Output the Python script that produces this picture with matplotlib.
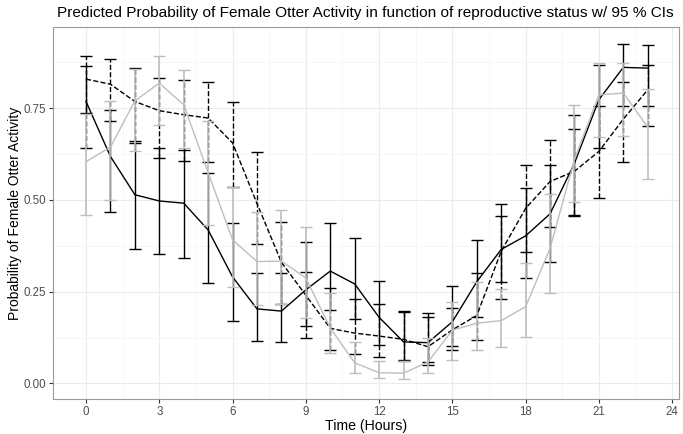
import numpy as np
import matplotlib
matplotlib.use("Agg")
from matplotlib import pyplot as plt

plt.rcParams['font.family'] = ['Liberation Sans', 'DejaVu Sans']

# hours of the day
hours = list(range(24))

# black solid series
solid_fit = [0.768, 0.618, 0.514, 0.497, 0.491, 0.418, 0.290, 0.203, 0.197, 0.255, 0.306, 0.271,
             0.180, 0.113, 0.111, 0.168, 0.277, 0.365, 0.402, 0.462, 0.600, 0.773, 0.861, 0.859]
solid_lo = [0.738, 0.468, 0.366, 0.353, 0.343, 0.273, 0.171, 0.116, 0.112, 0.156, 0.200, 0.176,
            0.105, 0.064, 0.059, 0.102, 0.180, 0.277, 0.287, 0.330, 0.456, 0.641, 0.757, 0.756]
solid_hi = [0.865, 0.744, 0.656, 0.641, 0.636, 0.574, 0.438, 0.300, 0.300, 0.385, 0.438, 0.396,
            0.280, 0.197, 0.193, 0.266, 0.392, 0.488, 0.532, 0.594, 0.732, 0.868, 0.925, 0.923]

# black dashed series
dash_fit = [0.829, 0.815, 0.768, 0.743, 0.732, 0.723, 0.655, 0.490, 0.330, 0.240, 0.150, 0.137,
            0.129, 0.120, 0.100, 0.146, 0.185, 0.360, 0.477, 0.550, 0.578, 0.632, 0.720, 0.800]
dash_lo = [0.641, 0.716, 0.660, 0.614, 0.607, 0.602, 0.536, 0.380, 0.216, 0.123, 0.090, 0.080,
           0.073, 0.062, 0.050, 0.090, 0.118, 0.230, 0.359, 0.426, 0.460, 0.505, 0.602, 0.700]
dash_hi = [0.893, 0.884, 0.860, 0.832, 0.827, 0.820, 0.768, 0.630, 0.440, 0.303, 0.259, 0.230,
           0.216, 0.195, 0.182, 0.205, 0.300, 0.456, 0.594, 0.664, 0.694, 0.755, 0.820, 0.868]

# light grey series
grey_fit = [0.604, 0.644, 0.770, 0.818, 0.759, 0.574, 0.391, 0.332, 0.333, 0.287, 0.151, 0.056,
            0.029, 0.028, 0.058, 0.145, 0.164, 0.171, 0.209, 0.368, 0.610, 0.786, 0.791, 0.698]
grey_lo = [0.459, 0.500, 0.634, 0.704, 0.641, 0.432, 0.264, 0.214, 0.216, 0.177, 0.084, 0.027,
           0.014, 0.012, 0.029, 0.064, 0.091, 0.098, 0.127, 0.247, 0.493, 0.671, 0.673, 0.556]
grey_hi = [0.734, 0.770, 0.856, 0.893, 0.853, 0.714, 0.536, 0.466, 0.473, 0.425, 0.246, 0.112,
           0.061, 0.060, 0.123, 0.223, 0.277, 0.257, 0.329, 0.516, 0.759, 0.873, 0.873, 0.803]

xticks = [0, 3, 6, 9, 12, 15, 18, 21, 24]
yticks = [0.0, 0.25, 0.5, 0.75]

fig = plt.figure(figsize=(6.83, 4.34), dpi=100)
ax = fig.add_axes([52.6 / 683, 1 - 399 / 434, (679 - 52.6) / 683, (399 - 27) / 434])

def draw(fit, lo, hi, color, ls, z, ew=1.0):
    fit = np.array(fit)
    # error bars drawn with vlines so the line style and stacking are easy to control
    ax.vlines(hours, lo, hi, colors=color, linestyles=ls, lw=ew, zorder=z)
    ax.plot(hours, lo, ls='none', marker='_', ms=8, mew=1.0, color=color, zorder=z)
    ax.plot(hours, hi, ls='none', marker='_', ms=8, mew=1.0, color=color, zorder=z)
    ax.plot(hours, fit, color=color, lw=1.0, ls=ls, zorder=z + 0.5)

draw(solid_fit, solid_lo, solid_hi, 'black', '-', 3)
draw(dash_fit, dash_lo, dash_hi, 'black', '--', 4)
draw(grey_fit, grey_lo, grey_hi, '#bebebe', '-', 5, ew=1.2)

ax.set_xlim(-1.37, 24.28)
ax.set_ylim(-0.0425, 0.971)
ax.set_xticks(xticks)
ax.set_xticklabels([str(t) for t in xticks])
ax.set_yticks(yticks)
ax.set_yticklabels(["0.00", "0.25", "0.50", "0.75"])
ax.set_xticks(np.arange(1.5, 24, 3), minor=True)
ax.set_yticks([0.125, 0.375, 0.625, 0.875], minor=True)
ax.grid(which='major', color='#ebebeb', lw=0.8, zorder=0)
ax.grid(which='minor', color='#f5f5f5', lw=0.6, zorder=0)
ax.set_axisbelow(True)
ax.tick_params(which='minor', length=0)
ax.tick_params(which='major', length=3, width=0.8, color='#333333', labelsize=8.3,
               labelcolor='#4d4d4d', pad=2)
for s in ax.spines.values():
    s.set_color('#999999')
    s.set_linewidth(0.8)

ax.set_xlabel("Time (Hours)", fontsize=10.2, labelpad=1)
ax.set_ylabel("Probability of Female Otter Activity", fontsize=10.0, labelpad=1)
fig.text((52.6 + 679) / 2 / 683, 1 - 13 / 434, "Predicted Probability of Female Otter Activity in function of reproductive status w/ 95 % CIs",
         ha='center', va='center', fontsize=11.1)

fig.savefig("out.png", dpi=100)
